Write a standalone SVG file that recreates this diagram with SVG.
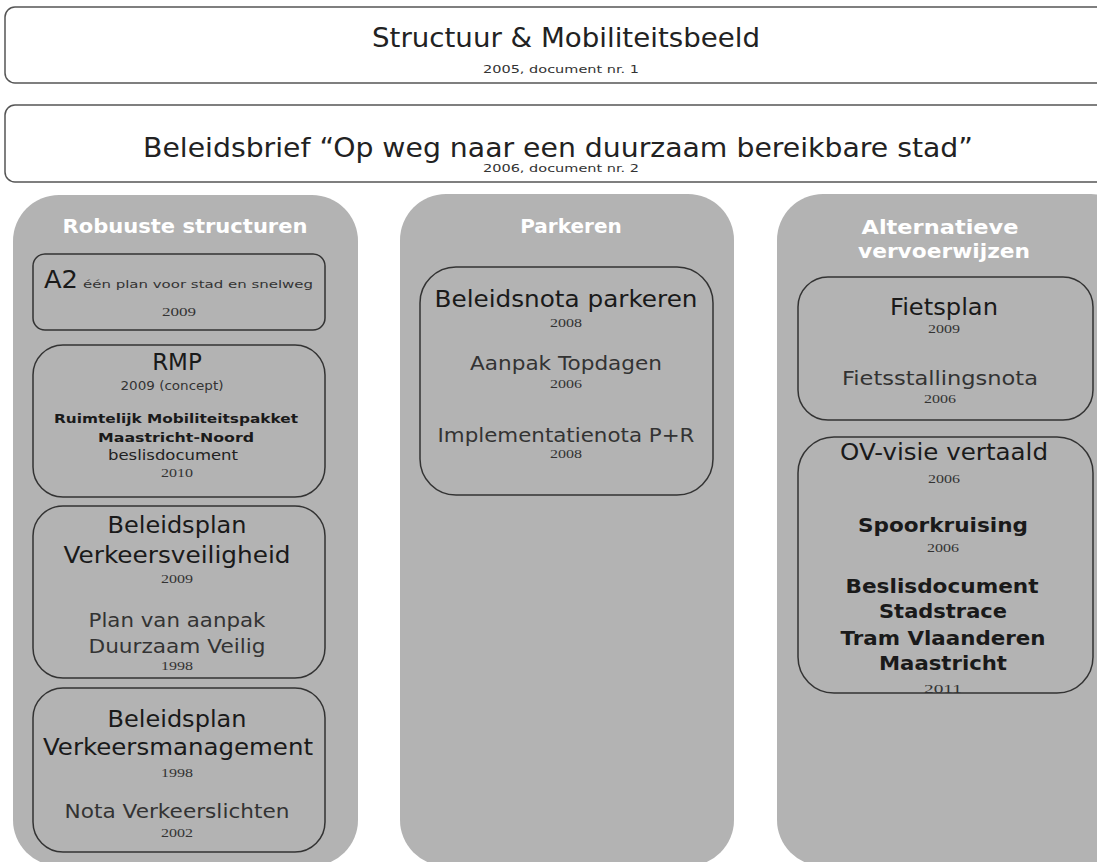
<svg xmlns="http://www.w3.org/2000/svg" width="1097" height="862" viewBox="0 0 1097 862">
<style>
text{font-family:"DejaVu Sans",Verdana,sans-serif;fill:#1a1a1a;text-anchor:middle}
.top{fill:#fff;stroke:#555;stroke-width:1.5}
.col{fill:#b3b3b3;stroke:none}
.box{fill:none;stroke:#333;stroke-width:1.5}
.hd{font-weight:bold;fill:#fff;font-size:20px}
.t1{font-size:27px;fill:#222}
.sub{font-size:10px;fill:#333}
.big{font-size:23px;fill:#1a1a1a}
.mid{font-size:20px;fill:#333}
.yr{font-family:"Liberation Serif","Times New Roman",serif;font-size:12px;fill:#333}
.b{font-weight:bold;font-size:13px}
.bb{font-weight:bold;font-size:19px}
</style>
<rect width="1097" height="862" fill="#fff"/>
<g id="structuur">
<rect class="top" x="5" y="7" width="1110" height="76" rx="10"/>
<text class="t1" x="566" y="47" textLength="388" lengthAdjust="spacingAndGlyphs">Structuur &amp; Mobiliteitsbeeld</text>
<text class="sub" x="561" y="73" textLength="156" lengthAdjust="spacingAndGlyphs">2005, document nr. 1</text>
</g>
<g id="beleidsbrief">
<rect class="top" x="5" y="105" width="1110" height="77" rx="10"/>
<text class="t1" x="558" y="157" textLength="830" lengthAdjust="spacingAndGlyphs">Beleidsbrief “Op weg naar een duurzaam bereikbare stad”</text>
<text class="sub" x="561" y="172" textLength="156" lengthAdjust="spacingAndGlyphs">2006, document nr. 2</text>
</g>
<g id="col-robuust">
<rect class="col" x="13" y="195" width="345" height="671" rx="46"/>
<text class="hd" x="185" y="233" textLength="245" lengthAdjust="spacingAndGlyphs">Robuuste structuren</text>
</g>
<g id="col-parkeren">
<rect class="col" x="400" y="194" width="334" height="672" rx="46"/>
<text class="hd" x="571" y="233">Parkeren</text>
</g>
<g id="col-alternatief">
<rect class="col" x="777" y="194" width="360" height="672" rx="46"/>
<text class="hd" x="940" y="234" textLength="157" lengthAdjust="spacingAndGlyphs">Alternatieve</text>
<text class="hd" x="944" y="258" textLength="172" lengthAdjust="spacingAndGlyphs">vervoerwijzen</text>
</g>
<g id="a2">
<rect class="box" x="33" y="254" width="292" height="76" rx="12"/>
<text class="big" x="61" y="288" style="font-size:25px" textLength="34" lengthAdjust="spacingAndGlyphs">A2</text>
<text x="198" y="288" style="font-size:11px;fill:#333" textLength="230" lengthAdjust="spacingAndGlyphs">één plan voor stad en snelweg</text>
<text class="yr" x="179" y="316" textLength="34" lengthAdjust="spacingAndGlyphs">2009</text>
</g>
<g id="rmp">
<rect class="box" x="33" y="345" width="292" height="152" rx="30"/>
<text class="big" x="177" y="370">RMP</text>
<text x="172" y="390" style="font-size:12px;fill:#333" textLength="103" lengthAdjust="spacingAndGlyphs">2009 (concept)</text>
<text class="b" x="176" y="423" textLength="244" lengthAdjust="spacingAndGlyphs">Ruimtelijk Mobiliteitspakket</text>
<text class="b" x="176" y="442" textLength="156" lengthAdjust="spacingAndGlyphs">Maastricht-Noord</text>
<text x="173" y="460" style="font-size:14px;fill:#222" textLength="130" lengthAdjust="spacingAndGlyphs">beslisdocument</text>
<text class="yr" x="177" y="477" textLength="32" lengthAdjust="spacingAndGlyphs">2010</text>
</g>
<g id="verkeersveiligheid">
<rect class="box" x="33" y="506" width="292" height="172" rx="30"/>
<text class="big" x="177" y="533" textLength="139" lengthAdjust="spacingAndGlyphs">Beleidsplan</text>
<text class="big" x="177" y="563" textLength="227" lengthAdjust="spacingAndGlyphs">Verkeersveiligheid</text>
<text class="yr" x="177" y="583" textLength="32" lengthAdjust="spacingAndGlyphs">2009</text>
<text class="mid" x="177" y="627" textLength="177" lengthAdjust="spacingAndGlyphs">Plan van aanpak</text>
<text class="mid" x="177" y="653" textLength="177" lengthAdjust="spacingAndGlyphs">Duurzaam Veilig</text>
<text class="yr" x="177" y="670" textLength="32" lengthAdjust="spacingAndGlyphs">1998</text>
</g>
<g id="verkeersmanagement">
<rect class="box" x="33" y="688" width="292" height="164" rx="30"/>
<text class="big" x="177" y="727" textLength="139" lengthAdjust="spacingAndGlyphs">Beleidsplan</text>
<text class="big" x="178" y="755" textLength="270" lengthAdjust="spacingAndGlyphs">Verkeersmanagement</text>
<text class="yr" x="177" y="777" textLength="32" lengthAdjust="spacingAndGlyphs">1998</text>
<text class="mid" x="177" y="818" textLength="225" lengthAdjust="spacingAndGlyphs">Nota Verkeerslichten</text>
<text class="yr" x="177" y="837" textLength="32" lengthAdjust="spacingAndGlyphs">2002</text>
</g>
<g id="parkeren">
<rect class="box" x="420" y="267" width="293" height="228" rx="36"/>
<text class="big" x="566" y="307" textLength="263" lengthAdjust="spacingAndGlyphs">Beleidsnota parkeren</text>
<text class="yr" x="566" y="327" textLength="32" lengthAdjust="spacingAndGlyphs">2008</text>
<text class="mid" x="566" y="370" textLength="192" lengthAdjust="spacingAndGlyphs">Aanpak Topdagen</text>
<text class="yr" x="566" y="388" textLength="32" lengthAdjust="spacingAndGlyphs">2006</text>
<text class="mid" x="566" y="442" textLength="257" lengthAdjust="spacingAndGlyphs">Implementatienota P+R</text>
<text class="yr" x="566" y="458" textLength="32" lengthAdjust="spacingAndGlyphs">2008</text>
</g>
<g id="fietsplan">
<rect class="box" x="798" y="277" width="295" height="143" rx="30"/>
<text class="big" x="944" y="315" textLength="108" lengthAdjust="spacingAndGlyphs">Fietsplan</text>
<text class="yr" x="944" y="333" textLength="32" lengthAdjust="spacingAndGlyphs">2009</text>
<text class="mid" x="940" y="385" textLength="196" lengthAdjust="spacingAndGlyphs">Fietsstallingsnota</text>
<text class="yr" x="940" y="403" textLength="32" lengthAdjust="spacingAndGlyphs">2006</text>
</g>
<g id="ov-visie">
<rect class="box" x="798" y="437" width="295" height="256" rx="36"/>
<text class="big" x="944" y="460" textLength="208" lengthAdjust="spacingAndGlyphs">OV-visie vertaald</text>
<text class="yr" x="944" y="483" textLength="32" lengthAdjust="spacingAndGlyphs">2006</text>
<text class="bb" x="943" y="532" textLength="170" lengthAdjust="spacingAndGlyphs">Spoorkruising</text>
<text class="bb" x="943" y="552" style="font-family:'Liberation Serif',serif;font-weight:normal;font-size:12px;fill:#333" textLength="32" lengthAdjust="spacingAndGlyphs">2006</text>
<text class="bb" x="942" y="593" textLength="193" lengthAdjust="spacingAndGlyphs">Beslisdocument</text>
<text class="bb" x="943" y="618" textLength="128" lengthAdjust="spacingAndGlyphs">Stadstrace</text>
<text class="bb" x="943" y="645" textLength="205" lengthAdjust="spacingAndGlyphs">Tram Vlaanderen</text>
<text class="bb" x="943" y="670" textLength="128" lengthAdjust="spacingAndGlyphs">Maastricht</text>
<text class="yr" x="943" y="693" textLength="38" lengthAdjust="spacingAndGlyphs">2011</text>
</g>
<g id="connectors"/>
</svg>
